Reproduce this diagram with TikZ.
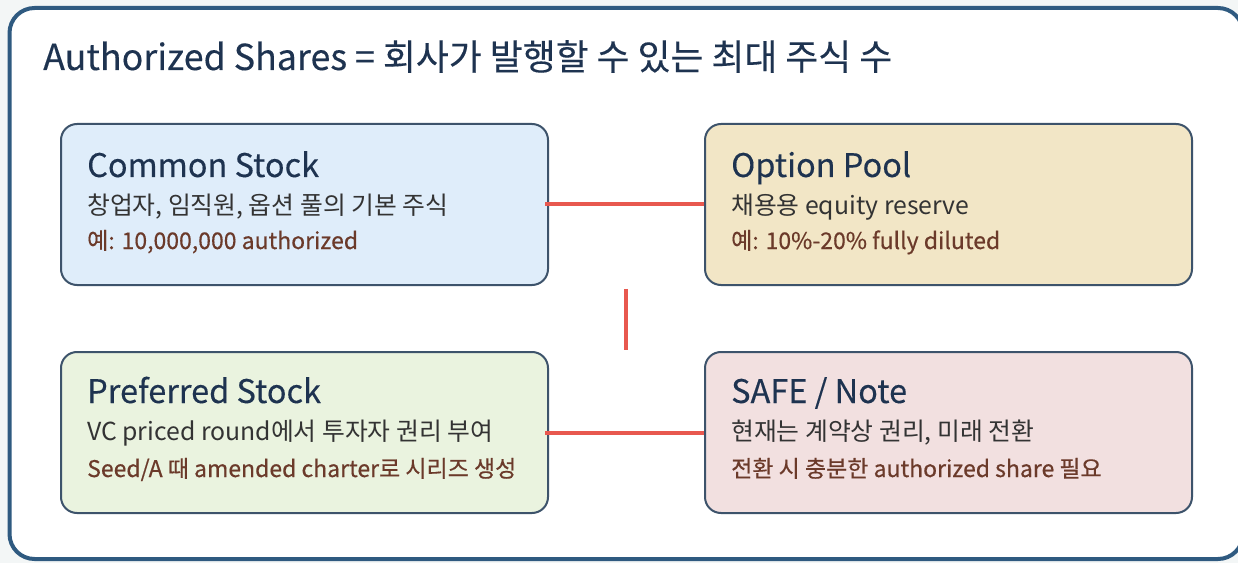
\documentclass[tikz,border=0pt]{standalone}
\usepackage{fontspec}
\setmainfont{Noto Sans CJK KR}
\newfontfamily\headfont[FakeBold=0.25]{Noto Sans CJK KR}
\newfontfamily\notefont[FakeBold=0.45]{Noto Sans CJK KR}
\definecolor{bgc}{HTML}{F3F6F6}
\definecolor{framec}{HTML}{2F5A80}
\definecolor{boxline}{HTML}{3D536B}
\definecolor{titlec}{HTML}{1E3350}
\definecolor{subc}{HTML}{333333}
\definecolor{brownc}{HTML}{6B3A2A}
\definecolor{redc}{HTML}{E8584F}
\definecolor{fillA}{HTML}{DFEDFA}
\definecolor{fillB}{HTML}{F2E6C6}
\definecolor{fillC}{HTML}{EAF3DF}
\definecolor{fillD}{HTML}{F2E0E0}
\tikzset{
  box/.style={draw=boxline, line width=2bp, rounded corners=16bp, anchor=north west,
    minimum width=487bp, minimum height=161bp, inner sep=0pt},
  maintitle/.style={anchor=base west, inner sep=0pt, text=titlec, font=\headfont\fontsize{35.8bp}{40bp}\selectfont},
  boxtitle/.style={anchor=base west, inner sep=0pt, text=titlec, font=\headfont\fontsize{32.5bp}{36bp}\selectfont},
  subtext/.style={anchor=base west, inner sep=0pt, text=subc, font=\fontsize{24.8bp}{28bp}\selectfont},
  notetext/.style={anchor=base west, inner sep=0pt, text=brownc, font=\notefont\fontsize{23bp}{27bp}\selectfont},
  link/.style={draw=redc, line width=4bp}
}
\begin{document}
\begin{tikzpicture}[x=1bp,y=-1bp]
\useasboundingbox (0,0) rectangle (1238,563);
\fill[bgc] (0,0) rectangle (1238,563);
\draw[draw=framec, fill=white, line width=4bp, rounded corners=25bp] (9.5,8) rectangle (1243,559);

\node[maintitle] (title) at (43,70) {Authorized Shares = 회사가 발행할 수 있는 최대 주식 수};

\node[box, fill=fillA] (cs) at (60,123) {};
\node[box, fill=fillB] (op) at (704,123) {};
\node[box, fill=fillC] (ps) at (60,351) {};
\node[box, fill=fillD] (sn) at (704,351) {};

\node[boxtitle] (cst) at ([xshift=27bp,yshift=-54bp]cs.north west) {Common Stock};
\node[subtext] (css) at ([xshift=27bp,yshift=-92bp]cs.north west) {창업자, 임직원, 옵션 풀의 기본 주식};
\node[notetext] (csn) at ([xshift=27bp,yshift=-126bp]cs.north west) {예: 10,000,000 authorized};

\node[boxtitle] (opt) at ([xshift=27bp,yshift=-54bp]op.north west) {Option Pool};
\node[subtext] (ops) at ([xshift=27bp,yshift=-92bp]op.north west) {채용용 equity reserve};
\node[notetext] (opn) at ([xshift=27bp,yshift=-126bp]op.north west) {예: 10\%-20\% fully diluted};

\node[boxtitle] (pst) at ([xshift=27bp,yshift=-52bp]ps.north west) {Preferred Stock};
\node[subtext] (pss) at ([xshift=27bp,yshift=-89bp]ps.north west) {VC priced round에서 투자자 권리 부여};
\node[notetext] (psn) at ([xshift=27bp,yshift=-126bp]ps.north west) {Seed/A 때 amended charter로 시리즈 생성};

\node[boxtitle] (snt) at ([xshift=27bp,yshift=-52bp]sn.north west) {SAFE / Note};
\node[subtext] (sns) at ([xshift=27bp,yshift=-89bp]sn.north west) {현재는 계약상 권리, 미래 전환};
\node[notetext] (snn) at ([xshift=27bp,yshift=-126bp]sn.north west) {전환 시 충분한 authorized share 필요};

\coordinate (vtop) at (625.5,289);
\coordinate (vbot) at (625.5,350);
\draw[link] ([xshift=-4bp]cs.east) -- (op.west);
\draw[link] ([xshift=-4bp]ps.east) -- (sn.west);
\draw[link] (vtop) -- (vbot);
\end{tikzpicture}
\end{document}
